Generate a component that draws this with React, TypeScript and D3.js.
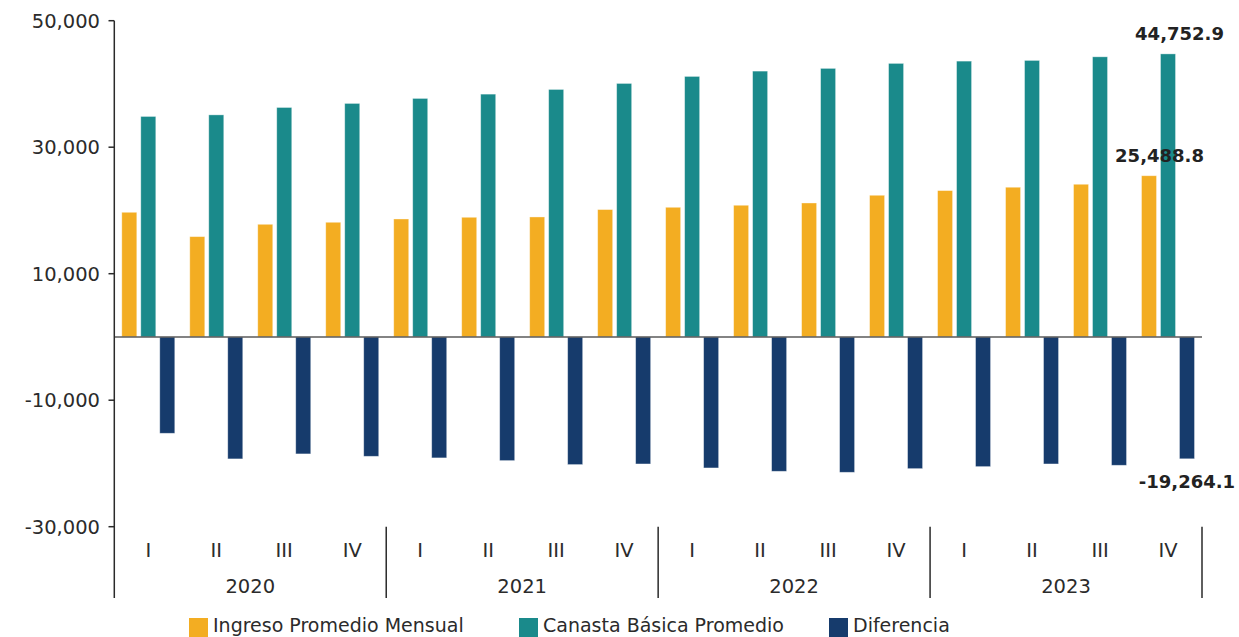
import React from "react";
import * as d3 from "d3";

const years = ["2020", "2021", "2022", "2023"];
const quarters = ["I", "II", "III", "IV"];
const categories = years.flatMap((y) => quarters.map((q) => `${y}-${q}`));

const ingreso = [
  19710, 15860, 17810, 18130, 18650, 18920, 18970, 20140,
  20500, 20820, 21180, 22400, 23140, 23670, 24140, 25488.8,
];
const canasta = [
  34860, 35110, 36280, 36920, 37710, 38390, 39130, 40080,
  41190, 42030, 42460, 43250, 43610, 43720, 44290, 44752.9,
];
const diferencia = [
  -15230, -19280, -18490, -18870, -19120, -19550, -20180, -20080,
  -20710, -21240, -21400, -20820, -20500, -20080, -20290, -19264.1,
];
const yTicks = [50000, 30000, 10000, -10000, -30000];

const seriesNames = ["Ingreso Promedio Mensual", "Canasta Básica Promedio", "Diferencia"];
const seriesColors = ["#F3AD22", "#1A8A8B", "#163B6C"];
const seriesValues = [ingreso, canasta, diferencia];

const W = 1239;
const H = 637;
const FONT = "'DejaVu Sans', sans-serif";

const locale = d3.formatLocale({
  decimal: ".",
  thousands: ",",
  grouping: [3],
  currency: ["$", ""],
  minus: "-",
});

export default function App() {
  const x = d3.scaleBand<string>().domain(categories).range([114.3, 1202]).padding(0);
  const xs = d3
    .scaleBand<string>()
    .domain(seriesNames)
    .range([0, x.bandwidth()])
    .paddingInner(0.21)
    .paddingOuter(0.395);
  const y = d3.scaleLinear().domain([-30000, 50000]).range([526.7, 20.7]);
  const fmt = locale.format(",.1f");
  const fmtTick = locale.format(",");
  const last = categories.length - 1;
  const lastCat = categories[last];

  const axisBottom = 598;
  const sepTop = y(-30000);

  return (
    <svg
      width={W}
      height={H}
      style={{ position: "absolute", left: 0, top: 0, background: "#fff" }}
      fontFamily={FONT}
    >
      {/* bars */}
      {seriesNames.map((s, si) =>
        categories.map((c, i) => {
          const v = seriesValues[si][i];
          const y0 = y(0);
          const y1 = y(v);
          return (
            <rect
              key={`${s}-${c}`}
              x={(x(c) as number) + (xs(s) as number)}
              y={Math.min(y0, y1)}
              width={xs.bandwidth()}
              height={Math.abs(y1 - y0)}
              fill={seriesColors[si]}
              stroke="#ffffff"
              strokeOpacity={0.45}
              strokeWidth={0.8}
            />
          );
        })
      )}

      {/* zero line */}
      <line x1={x.range()[0]} x2={x.range()[1]} y1={y(0)} y2={y(0)} stroke="#5a5a5a" strokeWidth={1.5} />

      {/* y axis */}
      <line x1={114.3} x2={114.3} y1={y(50000)} y2={axisBottom} stroke="#2a2a2a" strokeWidth={1.5} />
      {yTicks.map((t) => (
        <g key={t}>
          <line x1={108.5} x2={114.3} y1={y(t)} y2={y(t)} stroke="#2a2a2a" strokeWidth={1.5} />
          <text
            x={100}
            y={y(t)}
            dy="0.36em"
            textAnchor="end"
            fontSize={19.5}
            fill="#2b2b2b"
          >
            {fmtTick(t)}
          </text>
        </g>
      ))}

      {/* year separators */}
      {years.map((yr, k) => {
        const xe = (x(categories[k * 4 + 3]) as number) + x.bandwidth();
        return (
          <line key={yr} x1={xe} x2={xe} y1={sepTop} y2={axisBottom} stroke="#2a2a2a" strokeWidth={1.5} />
        );
      })}

      {/* quarter labels */}
      {categories.map((c, i) => (
        <text
          key={c}
          x={(x(c) as number) + x.bandwidth() / 2}
          y={557}
          textAnchor="middle"
          fontSize={19.5}
          fill="#2b2b2b"
        >
          {quarters[i % 4]}
        </text>
      ))}

      {/* year labels */}
      {years.map((yr, k) => {
        const xs0 = x(categories[k * 4]) as number;
        const xe = (x(categories[k * 4 + 3]) as number) + x.bandwidth();
        return (
          <text key={yr} x={(xs0 + xe) / 2} y={593} textAnchor="middle" fontSize={19.5} fill="#2b2b2b">
            {yr}
          </text>
        );
      })}

      {/* data labels for last quarter */}
      <text
        x={(x(lastCat) as number) + (xs(seriesNames[1]) as number) + xs.bandwidth() / 2 + 11.5}
        y={y(canasta[last]) - 14}
        textAnchor="middle"
        fontSize={18}
        fontWeight="bold"
        fill="#222"
      >
        {fmt(canasta[last])}
      </text>
      <text
        x={(x(lastCat) as number) + (xs(seriesNames[0]) as number) + xs.bandwidth() / 2 + 10.5}
        y={y(ingreso[last]) - 14}
        textAnchor="middle"
        fontSize={18}
        fontWeight="bold"
        fill="#222"
      >
        {fmt(ingreso[last])}
      </text>
      <text
        x={(x(lastCat) as number) + (xs(seriesNames[2]) as number) + xs.bandwidth() / 2}
        y={y(diferencia[last]) + 29.6}
        textAnchor="middle"
        fontSize={18}
        fontWeight="bold"
        fill="#222"
      >
        {fmt(diferencia[last])}
      </text>

      {/* legend */}
      {seriesNames.map((s, si) => {
        const lx = [189, 519, 829][si];
        return (
          <g key={s}>
            <rect x={lx} y={618} width={19} height={19} fill={seriesColors[si]} />
            <text x={lx + 24} y={631.5} fontSize={19} fill="#2b2b2b">
              {s}
            </text>
          </g>
        );
      })}
    </svg>
  );
}
